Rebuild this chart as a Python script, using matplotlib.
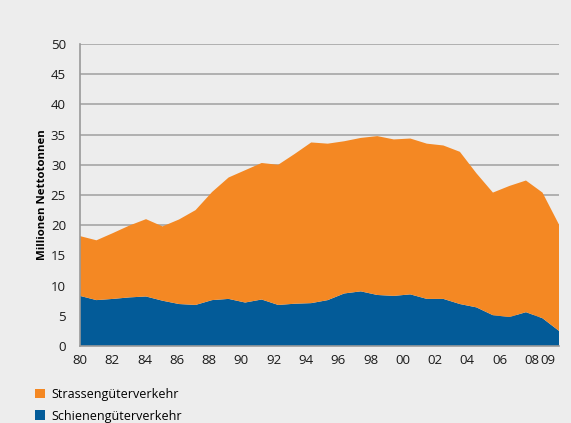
import matplotlib
matplotlib.use('Agg')
import matplotlib.pyplot as plt
from matplotlib.patches import Patch

plt.rcParams['font.family'] = ['Open Sans', 'DejaVu Sans']

years = list(range(1980, 2010))
schiene = [8.3, 7.6, 7.8, 8.05, 8.2, 7.5, 6.95, 6.8, 7.6, 7.8,
           7.2, 7.7, 6.8, 7.0, 7.1, 7.6, 8.7, 9.05, 8.45, 8.3,
           8.55, 7.8, 7.8, 6.95, 6.4, 5.1, 4.8, 5.6, 4.6, 2.5]
strasse = [9.9, 9.9, 10.9, 11.9, 12.8, 12.3, 14.0, 15.7, 17.9, 20.1,
           21.9, 22.6, 23.2, 24.8, 26.6, 25.9, 25.2, 25.4, 26.3, 25.9,
           25.8, 25.7, 25.4, 25.2, 22.2, 20.3, 21.7, 21.8, 20.8, 17.6]
tick_years = [1980, 1982, 1984, 1986, 1988, 1990, 1992, 1994, 1996, 1998,
              2000, 2002, 2004, 2006, 2008, 2009]
tick_labels = ["80", "82", "84", "86", "88", "90", "92", "94", "96", "98",
               "00", "02", "04", "06", "08", "09"]

blue = "#035b98"
orange = "#f48823"
bg = "#ededed"

fig = plt.figure(figsize=(5.71, 4.23), dpi=100, facecolor=bg)
ax = fig.add_axes([0.140, 0.182, 0.839, 0.714], facecolor=bg)

ax.set_ylim(0, 50)
ax.set_xlim(1980, 2009)
ax.set_yticks(range(0, 51, 5))
ax.yaxis.grid(True, color="#a5a5a5", linewidth=1.2)
ax.set_axisbelow(True)

ax.stackplot(years, schiene, strasse, colors=[blue, orange], linewidth=0, zorder=2)

# the original labels sit slightly left of their year, drifting toward the end
ax.set_xticks([1980 + (y - 1980) * 0.977 for y in tick_years])
ax.set_xticklabels(tick_labels)
ax.tick_params(length=0, labelsize=9.5, colors="#1a1a1a", pad=6)
ax.tick_params(axis='y', pad=10)

for s in ['top', 'right']:
    ax.spines[s].set_visible(False)
for s in ['left', 'bottom']:
    ax.spines[s].set_color("#999999")
    ax.spines[s].set_linewidth(1.2)
    ax.spines[s].set_zorder(3)

ax.set_ylabel("Millionen Nettotonnen", fontsize=8.2, fontweight='bold', labelpad=2)

handles = [Patch(facecolor=orange, label="Strassengüterverkehr"),
           Patch(facecolor=blue, label="Schienengüterverkehr")]
fig.legend(handles=handles, loc='upper left', bbox_to_anchor=(0.052, 0.095),
           frameon=False, fontsize=9, handlelength=0.85, handleheight=0.85,
           handletextpad=0.5, labelspacing=0.7, borderaxespad=0)

fig.savefig("out.png", dpi=100, facecolor=bg)
